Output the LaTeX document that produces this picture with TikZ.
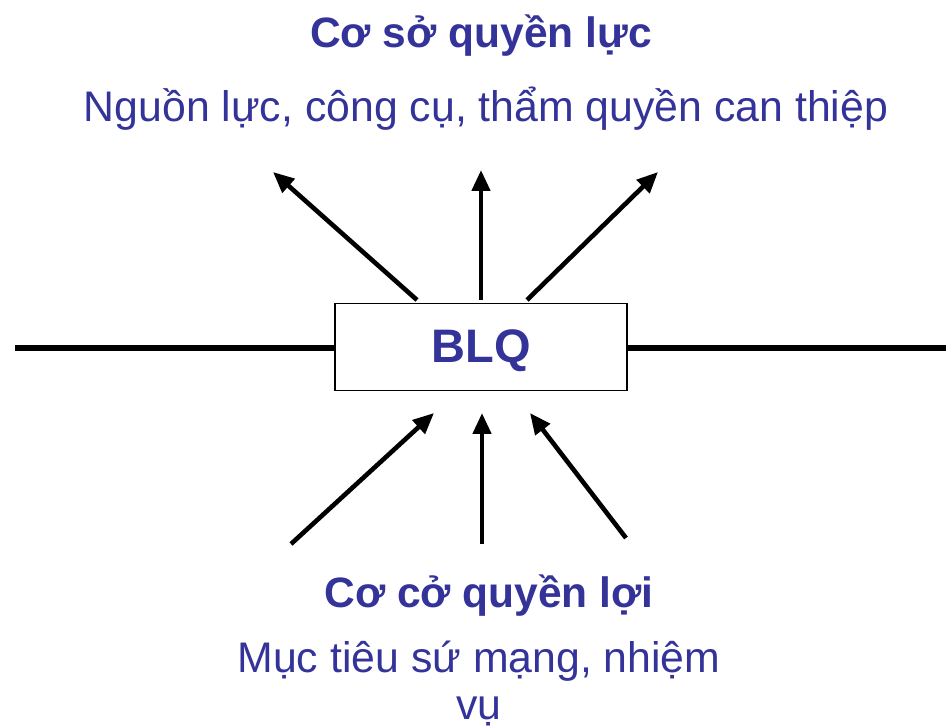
\documentclass[tikz,border=0pt]{standalone}
\usepackage{fontspec}
\setmainfont{Liberation Sans}
\usetikzlibrary{arrows.meta}
\definecolor{txtblue}{HTML}{333399}
\tikzset{
  lbl/.style={text=txtblue, inner sep=0pt, anchor=base},
  hdr/.style={lbl, font=\fontsize{42.5}{48}\selectfont\bfseries},
  body/.style={lbl, font=\fontsize{42.8}{48}\selectfont},
  arr/.style={line width=4.6pt, -{Triangle[length=21pt,width=18pt]}},
  hline/.style={line width=5.5pt},
  box/.style={draw, line width=1.3pt, minimum width=292pt, minimum height=87pt, inner sep=0pt}
}
\begin{document}
\begin{tikzpicture}[x=1pt,y=-1pt]
\useasboundingbox (0,0) rectangle (946,727);
\node[hdr] (t1) at (481,48) {Cơ sở quyền lực};
\node[body] (t2) at (486,122) {Nguồn lực, công cụ, thẩm quyền can thiệp};
\node[box] (blq) at (481,347) {};
\node[lbl, font=\fontsize{47}{52}\selectfont\bfseries] (blqt) at (481,363) {BLQ};
\coordinate (lft) at (15,348);
\coordinate (rgt) at (946,348);
\draw[hline] (lft) -- (blq.west |- lft);
\draw[hline] (blq.east |- rgt) -- (rgt);
% upward arrows
\coordinate (u1s) at (417,300); \coordinate (u1e) at (273,172);
\coordinate (u2s) at (481,300); \coordinate (u2e) at (481,170);
\coordinate (u3s) at (527,300); \coordinate (u3e) at (658,172);
\draw[arr] (u1s) -- (u1e);
\draw[arr] (u2s) -- (u2e);
\draw[arr] (u3s) -- (u3e);
% inward arrows
\coordinate (d1s) at (291,544); \coordinate (d1e) at (434,413);
\coordinate (d2s) at (482,544); \coordinate (d2e) at (482,413);
\coordinate (d3s) at (626,538); \coordinate (d3e) at (530,413);
\draw[arr] (d1s) -- (d1e);
\draw[arr] (d2s) -- (d2e);
\draw[arr] (d3s) -- (d3e);
\node[hdr] (b1) at (489,607) {Cơ cở quyền lợi};
\node[body] (b2) at (479,672) {Mục tiêu sứ mạng, nhiệm};
\node[body] (b3) at (479,719) {vụ};
\end{tikzpicture}
\end{document}
